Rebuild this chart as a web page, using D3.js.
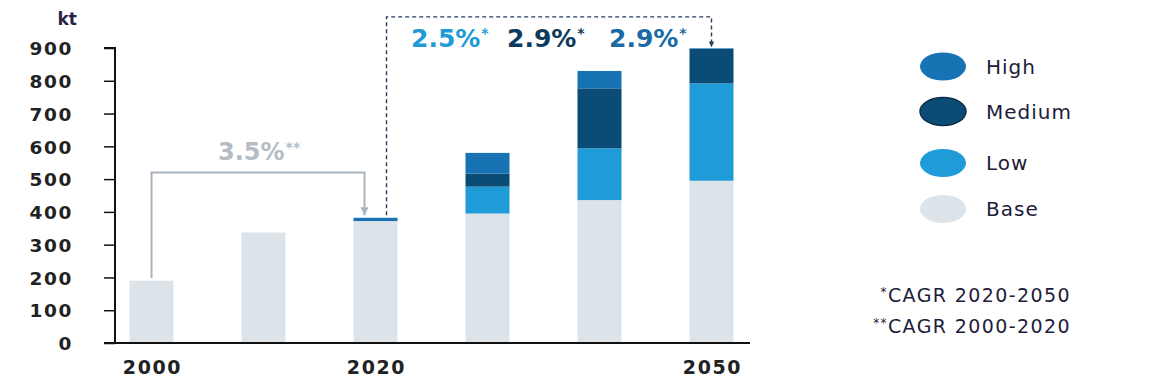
<!DOCTYPE html>
<html>
<head>
<meta charset="utf-8">
<script src="https://cdn.jsdelivr.net/npm/d3@7"></script>
<style>
  body { margin: 0; background: #fff; }
  svg text { font-family: 'DejaVu Sans', sans-serif; }
</style>
</head>
<body>
<div class="chart"></div>
<script>
var years = ['2000', '2010', '2020', '2030', '2040', '2050']
var yearLabels = ['2000', '2020', '2050']
var base = [190, 337, 372, 395, 436, 495]
var low = [0, 0, 0, 82, 158, 297]
var medium = [0, 0, 0, 40, 183, 105]
var high = [0, 0, 10, 63, 53, 2]
var yTicks = [0, 100, 200, 300, 400, 500, 600, 700, 800, 900]

var seriesKeys = ['base', 'low', 'medium', 'high']
var legendKeys = ['high', 'medium', 'low', 'base']
var legendNames = {high: 'High', medium: 'Medium', low: 'Low', base: 'Base'}
var colors = {base: '#dce3e9', low: '#1f9bd8', medium: '#0b4c77', high: '#1873b4'}

var cagrLabels = ['2.5%', '2.9%', '2.9%']
var cagrColors = ['#1f9bd8', '#0e3a5e', '#1a6aa6']
var footnotes = ['*CAGR 2020-2050', '**CAGR 2000-2020']

var rows = years.map((year, i) => ({year, base: base[i], low: low[i], medium: medium[i], high: high[i]}))

var width = 1168, height = 391
var svg = d3.select('.chart').append('svg')
  .attr('width', width).attr('height', height)

var x = d3.scaleBand().domain(years)
  .range([95.5, 767.5]).paddingInner(0.607).paddingOuter(0.3035)
var y = d3.scaleLinear().domain([0, 900]).range([343, 48])

// bars
var stack = d3.stack().keys(seriesKeys)(rows)
svg.append('g').selectAll('g').data(stack).join('g')
  .attr('fill', d => colors[d.key])
  .selectAll('rect').data(d => d).join('rect')
  .attr('x', d => x(d.data.year))
  .attr('width', x.bandwidth())
  .attr('y', d => y(d[1]))
  .attr('height', d => Math.max(0, y(d[0]) - y(d[1])))

// y axis
var yAxis = svg.append('g').attr('transform', 'translate(115,0)')
  .call(d3.axisLeft(y).tickValues(yTicks).tickSize(11).tickPadding(31))
yAxis.select('.domain').attr('d', `M-11,${y(900)}H0V${y(0)}`).attr('stroke', '#111').attr('stroke-width', 2)
yAxis.selectAll('.tick line').attr('stroke', '#111').attr('stroke-width', 1.5)
yAxis.selectAll('.tick text')
  .attr('font-size', 18.5).attr('font-weight', 'bold').attr('fill', '#222')
  .attr('letter-spacing', 1.6).attr('dy', '0.36em')

svg.append('text').text('kt')
  .attr('x', 77).attr('y', 25).attr('text-anchor', 'end')
  .attr('font-size', 17).attr('font-weight', 'bold').attr('fill', '#2a2444')

// x axis
svg.append('line')
  .attr('x1', 104).attr('x2', 750).attr('y1', y(0)).attr('y2', y(0))
  .attr('stroke', '#111').attr('stroke-width', 2)
svg.append('g').selectAll('text').data(yearLabels).join('text')
  .attr('x', d => x(d) + x.bandwidth() / 2 + 1)
  .attr('y', 374)
  .attr('text-anchor', 'middle')
  .attr('font-size', 19).attr('font-weight', 'bold').attr('fill', '#222')
  .attr('letter-spacing', 1.6)
  .text(d => d)

// markers
var defs = svg.append('defs')
function arrow(id, color){
  defs.append('marker').attr('id', id)
    .attr('viewBox', '0 0 10 10').attr('refX', 10).attr('refY', 5)
    .attr('markerWidth', 4).attr('markerHeight', 4)
    .attr('markerUnits', 'strokeWidth').attr('orient', 'auto')
    .append('path').attr('d', 'M0,0L10,5L0,10Z').attr('fill', color)
}
arrow('arrGray', '#a9b4be')
arrow('arrNavy', '#2a3d5a')

// CAGR 2000-2020 bracket
var bw = x.bandwidth()
var gx0 = x('2000') + bw / 2, gx1 = x('2020') + bw * 0.25
svg.append('path')
  .attr('d', `M${gx0},${y(base[0] + 8)}V${y(520)}H${gx1}V${y(390)}`)
  .attr('fill', 'none').attr('stroke', '#a9b4be').attr('stroke-width', 2)
  .attr('marker-end', 'url(#arrGray)')
var gt = svg.append('text')
  .attr('x', 218).attr('y', 160)
  .attr('font-size', 24).attr('font-weight', 'bold').attr('fill', '#b5bcc3')
gt.append('tspan').text('3.5%')
gt.append('tspan').text('**').attr('font-size', 14).attr('dy', -8).attr('dx', 1)

// CAGR 2020-2050 bracket
var dx0 = x('2020') + bw * 0.75, dx1 = x('2050') + bw / 2
svg.append('path')
  .attr('d', `M${dx0},${y(390)}V${y(995)}H${dx1}V${y(903)}`)
  .attr('fill', 'none').attr('stroke', '#2a3d5a').attr('stroke-width', 1.4)
  .attr('stroke-dasharray', '4,3')
  .attr('marker-end', 'url(#arrNavy)')

var cagrX = [411, 507, 609]
svg.append('g').selectAll('text').data(cagrLabels).join('text')
  .attr('x', (d, i) => cagrX[i]).attr('y', 47)
  .attr('font-size', 25).attr('font-weight', 'bold')
  .attr('fill', (d, i) => cagrColors[i])
  .each(function(d){
    var t = d3.select(this)
    t.append('tspan').text(d)
    t.append('tspan').text('*').attr('font-size', 14).attr('dy', -9).attr('dx', 1)
  })

// legend
var lg = svg.append('g').selectAll('g').data(legendKeys).join('g')
  .attr('transform', (d, i) => `translate(943,${[66.5, 111.5, 163, 209][i]})`)
lg.append('ellipse').attr('rx', 23).attr('ry', 14)
  .attr('fill', d => colors[d])
  .attr('stroke', d => d == 'medium' ? '#0a2f4a' : 'none').attr('stroke-width', 1.5)
lg.append('text').text(d => legendNames[d])
  .attr('x', 43).attr('dy', '0.36em')
  .attr('font-size', 20).attr('fill', '#1d1c3a').attr('letter-spacing', 1)

// footnotes
svg.append('g').selectAll('text').data(footnotes).join('text')
  .attr('x', 1071).attr('y', (d, i) => 302 + i * 30.5)
  .attr('text-anchor', 'end')
  .attr('font-size', 19).attr('fill', '#1d1c3a').attr('letter-spacing', 1.4)
  .each(function(d){
    var t = d3.select(this)
    var stars = d.match(/^\*+/)[0]
    t.append('tspan').text(stars).attr('font-size', 12).attr('dy', -6)
    t.append('tspan').text(d.slice(stars.length)).attr('dy', 6)
  })
</script>
</body>
</html>
